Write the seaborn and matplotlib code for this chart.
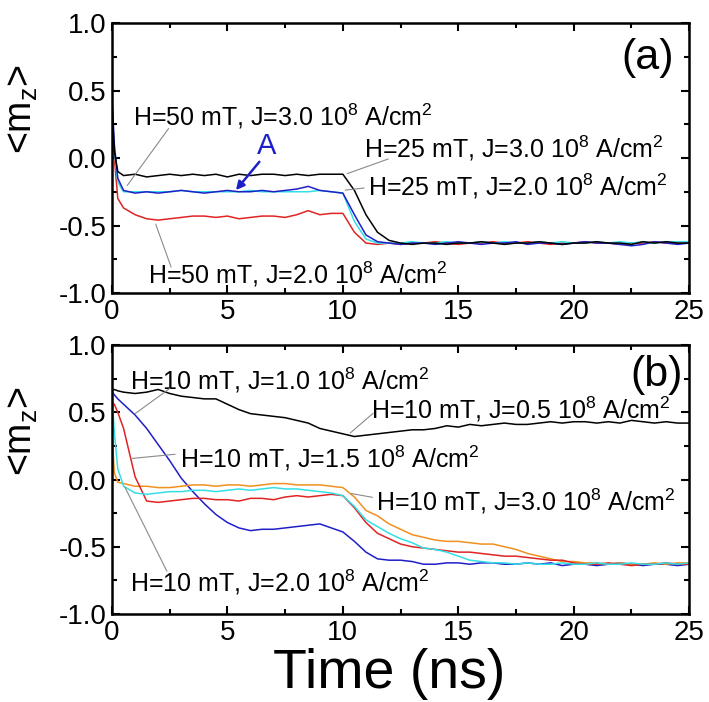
import numpy as np
import pandas as pd
import matplotlib
matplotlib.use("Agg")
import matplotlib.pyplot as plt
from matplotlib.ticker import MultipleLocator, FormatStrFormatter
import seaborn as sns

# time grid (ns): dense at the start, then every 0.5 ns
t = np.concatenate([[0.0, 0.1, 0.25], np.arange(0.5, 25.01, 0.5)])

# panel (a)
a_black = [0.40, 0.05, -0.10, -0.13, -0.12, -0.14, -0.13, -0.12, -0.13, -0.12, -0.13, -0.12, -0.14, -0.12,
           -0.13, -0.12, -0.12, -0.13, -0.12, -0.13, -0.12, -0.12, -0.12, -0.24, -0.42, -0.55, -0.61, -0.63,
           -0.64, -0.63, -0.63, -0.64, -0.63, -0.63, -0.62, -0.63, -0.64, -0.63, -0.63, -0.62, -0.63, -0.64,
           -0.63, -0.63, -0.62, -0.63, -0.63, -0.64, -0.62, -0.63, -0.62, -0.63, -0.63]
a_blue = [0.45, 0.10, -0.15, -0.24, -0.26, -0.25, -0.26, -0.25, -0.24, -0.25, -0.26, -0.25, -0.24, -0.25,
          -0.25, -0.24, -0.25, -0.24, -0.23, -0.21, -0.24, -0.25, -0.26, -0.42, -0.57, -0.62, -0.63, -0.64,
          -0.63, -0.63, -0.64, -0.63, -0.62, -0.63, -0.64, -0.63, -0.63, -0.62, -0.64, -0.63, -0.63, -0.64,
          -0.63, -0.62, -0.63, -0.63, -0.64, -0.65, -0.64, -0.62, -0.63, -0.64, -0.63]
a_cyan = [0.30, 0.05, -0.18, -0.25, -0.25, -0.25, -0.25, -0.25, -0.24, -0.25, -0.25, -0.25, -0.25, -0.25,
          -0.24, -0.25, -0.25, -0.25, -0.25, -0.25, -0.24, -0.25, -0.26, -0.47, -0.60, -0.63, -0.63, -0.63,
          -0.62, -0.63, -0.63, -0.62, -0.63, -0.63, -0.62, -0.63, -0.62, -0.63, -0.63, -0.62, -0.63, -0.62,
          -0.63, -0.63, -0.62, -0.63, -0.62, -0.63, -0.62, -0.63, -0.62, -0.62, -0.62]
a_red = [0.35, 0.00, -0.30, -0.37, -0.42, -0.45, -0.46, -0.45, -0.44, -0.43, -0.43, -0.44, -0.43, -0.45,
         -0.44, -0.43, -0.43, -0.44, -0.42, -0.39, -0.42, -0.41, -0.41, -0.55, -0.63, -0.64, -0.63, -0.64,
         -0.63, -0.63, -0.62, -0.63, -0.64, -0.63, -0.63, -0.62, -0.63, -0.63, -0.62, -0.63, -0.64, -0.63,
         -0.63, -0.62, -0.63, -0.63, -0.64, -0.63, -0.63, -0.62, -0.63, -0.63, -0.63]

# panel (b)
b_black = [0.66, 0.67, 0.66, 0.65, 0.64, 0.65, 0.67, 0.64, 0.62, 0.61, 0.60, 0.60, 0.56, 0.52,
           0.49, 0.48, 0.47, 0.46, 0.44, 0.42, 0.38, 0.36, 0.34, 0.32, 0.33, 0.34, 0.35, 0.36,
           0.37, 0.37, 0.38, 0.40, 0.39, 0.41, 0.40, 0.41, 0.42, 0.41, 0.41, 0.42, 0.43, 0.42,
           0.43, 0.43, 0.42, 0.43, 0.42, 0.44, 0.43, 0.42, 0.43, 0.42, 0.42]
b_blue = [0.65, 0.63, 0.60, 0.56, 0.48, 0.38, 0.26, 0.14, 0.01, -0.09, -0.18, -0.26, -0.32, -0.36,
          -0.38, -0.37, -0.37, -0.36, -0.35, -0.34, -0.33, -0.36, -0.39, -0.46, -0.54, -0.59, -0.60, -0.60,
          -0.61, -0.63, -0.63, -0.62, -0.62, -0.63, -0.62, -0.62, -0.63, -0.63, -0.62, -0.63, -0.62, -0.64,
          -0.63, -0.63, -0.64, -0.63, -0.62, -0.63, -0.64, -0.63, -0.63, -0.64, -0.63]
b_red = [0.57, 0.56, 0.50, 0.38, 0.02, -0.16, -0.17, -0.16, -0.15, -0.14, -0.14, -0.15, -0.15, -0.16,
         -0.14, -0.14, -0.15, -0.13, -0.12, -0.13, -0.12, -0.11, -0.12, -0.21, -0.32, -0.40, -0.44, -0.48,
         -0.50, -0.51, -0.52, -0.53, -0.54, -0.54, -0.55, -0.56, -0.57, -0.57, -0.58, -0.59, -0.60, -0.60,
         -0.62, -0.63, -0.63, -0.62, -0.63, -0.64, -0.63, -0.63, -0.62, -0.63, -0.63]
b_orange = [0.35, 0.05, -0.02, -0.03, -0.05, -0.05, -0.06, -0.06, -0.05, -0.04, -0.04, -0.05, -0.04, -0.04,
            -0.05, -0.04, -0.03, -0.03, -0.04, -0.04, -0.04, -0.05, -0.06, -0.13, -0.23, -0.27, -0.33, -0.37,
            -0.41, -0.43, -0.45, -0.46, -0.46, -0.47, -0.48, -0.48, -0.50, -0.52, -0.55, -0.57, -0.59, -0.61,
            -0.61, -0.62, -0.62, -0.63, -0.62, -0.63, -0.63, -0.62, -0.63, -0.62, -0.62]
b_cyan = [0.62, 0.35, 0.08, -0.05, -0.10, -0.11, -0.10, -0.09, -0.09, -0.08, -0.08, -0.09, -0.08, -0.07,
          -0.08, -0.07, -0.06, -0.07, -0.07, -0.08, -0.09, -0.10, -0.12, -0.20, -0.30, -0.35, -0.40, -0.44,
          -0.47, -0.51, -0.52, -0.54, -0.57, -0.60, -0.61, -0.62, -0.62, -0.63, -0.62, -0.63, -0.63, -0.62,
          -0.63, -0.63, -0.62, -0.63, -0.63, -0.62, -0.63, -0.63, -0.62, -0.63, -0.62]

colors = {"black": "#000000", "blue": "#1f1fc8", "cyan": "#33e0e6", "red": "#e02424", "orange": "#f0901e"}

sns.set_style("ticks")
plt.rcParams['font.family'] = ['Liberation Sans', 'DejaVu Sans']
plt.rcParams['mathtext.fontset'] = 'custom'
plt.rcParams['mathtext.rm'] = 'Liberation Sans'
plt.rcParams['mathtext.it'] = 'Liberation Sans'
for key in ['text.color', 'axes.labelcolor', 'xtick.color', 'ytick.color', 'axes.edgecolor']:
    plt.rcParams[key] = 'black'

fig = plt.figure(figsize=(7.09, 7.02), dpi=100)
ax_a = fig.add_axes([0.158, 0.5826, 0.814, 0.3846])
ax_b = fig.add_axes([0.158, 0.1254, 0.814, 0.383])

df_a = pd.concat([pd.DataFrame({"t": t, "mz": v, "curve": k})
                  for k, v in [("red", a_red), ("cyan", a_cyan), ("blue", a_blue), ("black", a_black)]])
df_b = pd.concat([pd.DataFrame({"t": t, "mz": v, "curve": k})
                  for k, v in [("black", b_black), ("blue", b_blue), ("orange", b_orange),
                               ("red", b_red), ("cyan", b_cyan)]])

sns.lineplot(data=df_a, x="t", y="mz", hue="curve", palette=colors, estimator=None,
             linewidth=1.1, legend=False, ax=ax_a)
sns.lineplot(data=df_b, x="t", y="mz", hue="curve", palette=colors, estimator=None,
             linewidth=1.1, legend=False, ax=ax_b)

for ax in (ax_a, ax_b):
    ax.set_xlim(0, 25)
    ax.set_ylim(-1, 1)
    ax.xaxis.set_major_locator(MultipleLocator(5))
    ax.xaxis.set_minor_locator(MultipleLocator(2.5))
    ax.yaxis.set_major_locator(MultipleLocator(0.5))
    ax.yaxis.set_minor_locator(MultipleLocator(0.25))
    ax.yaxis.set_major_formatter(FormatStrFormatter('%.1f'))
    ax.tick_params(which='both', direction='in', top=True, right=True, width=1.5, labelsize=20, pad=4)
    ax.tick_params(which='major', length=6)
    ax.tick_params(which='minor', length=3.5)
    for s in ax.spines.values():
        s.set_linewidth(1.8)
    ax.set_ylabel(r"<m$_z$>", fontsize=27)
    ax.yaxis.set_label_coords(-0.125, 0.68)
    ax.set_xlabel("")

ax_b.set_xlabel("Time (ns)", fontsize=40)
ax_b.xaxis.set_label_coords(0.48, -0.125)
ax_b.xaxis.label.set_va('top')

unit = r" 10$^8$ A/cm$^2$"
lead = dict(arrowstyle='-', color='#8a8a8a', lw=0.8)
fs = 18

# panel (a) labels
labels_a = [("H=50 mT, J=3.0", (0.92, 0.31), (2.52, 0.235), (0.59, -0.22)),
            ("H=25 mT, J=3.0", (10.9, 0.074), (12.08, 0.0), (10.07, -0.123)),
            ("H=25 mT, J=2.0", (11.07, -0.21), (11.04, -0.22), (9.98, -0.24)),
            ("H=50 mT, J=2.0", (1.54, -0.864), (2.6, -0.827), (1.85, -0.47))]
for txt, pos, p0, p1 in labels_a:
    ax_a.text(pos[0], pos[1], txt + unit, fontsize=fs, ha='left', va='center')
    ax_a.annotate('', xy=p1, xytext=p0, arrowprops=lead)
ax_a.text(6.7, 0.086, "A", color=colors["blue"], fontsize=21, ha='center', va='center')
ax_a.annotate('', xy=(5.29, -0.254), xytext=(6.46, -0.012),
              arrowprops=dict(arrowstyle='-|>', color=colors["blue"], lw=1.8, mutation_scale=12))
ax_a.text(23.2, 0.74, "(a)", fontsize=31, ha='center', va='center')

# panel (b) labels
labels_b = [("H=10 mT, J=1.0", (0.8, 0.74), (2.6, 0.69), (0.92, 0.48)),
            ("H=10 mT, J=0.5", (11.24, 0.52), (11.4, 0.506), (10.23, 0.333)),
            ("H=10 mT, J=1.5", (2.94, 0.16), (2.85, 0.19), (0.75, 0.155)),
            ("H=10 mT, J=3.0", (11.44, -0.16), (11.4, -0.136), (10.23, -0.10)),
            ("H=10 mT, J=2.0", (0.8, -0.765), (2.43, -0.70), (0.5, -0.037))]
for txt, pos, p0, p1 in labels_b:
    ax_b.text(pos[0], pos[1], txt + unit, fontsize=fs, ha='left', va='center')
    ax_b.annotate('', xy=p1, xytext=p0, arrowprops=lead)
ax_b.text(23.6, 0.78, "(b)", fontsize=31, ha='center', va='center')

fig.savefig("out.png", dpi=100)
